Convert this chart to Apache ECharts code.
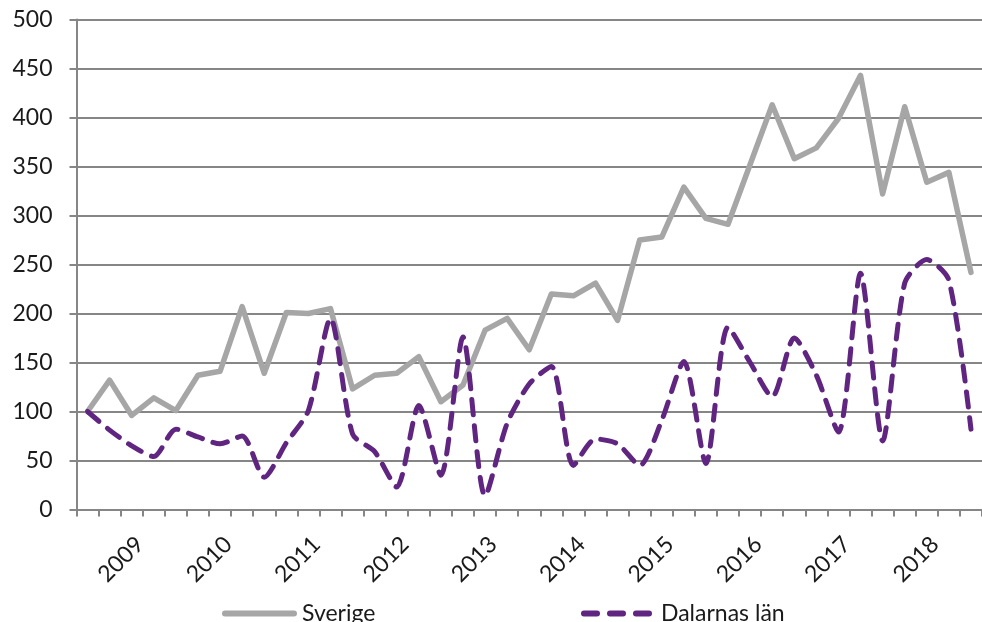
<!DOCTYPE html>
<html>
<head>
<meta charset="utf-8">
<script src="https://cdn.jsdelivr.net/npm/echarts@6/dist/echarts.min.js"></script>
<style>html,body{margin:0;padding:0;background:#fff}#c{width:982px;height:622px}</style>
</head>
<body>
<div id="c"></div>
<script>
const categories = [
  '2008 Q3','2008 Q4',
  '2009 Q1','2009 Q2','2009 Q3','2009 Q4',
  '2010 Q1','2010 Q2','2010 Q3','2010 Q4',
  '2011 Q1','2011 Q2','2011 Q3','2011 Q4',
  '2012 Q1','2012 Q2','2012 Q3','2012 Q4',
  '2013 Q1','2013 Q2','2013 Q3','2013 Q4',
  '2014 Q1','2014 Q2','2014 Q3','2014 Q4',
  '2015 Q1','2015 Q2','2015 Q3','2015 Q4',
  '2016 Q1','2016 Q2','2016 Q3','2016 Q4',
  '2017 Q1','2017 Q2','2017 Q3','2017 Q4',
  '2018 Q1','2018 Q2','2018 Q3'
];
const sverige = [100,132,96,114,101,137,141,207,139,201,200,205,123,137,139,156,110,127,183,195,163,220,218,231,193,275,278,329,297,291,352,413,358,369,399,443,322,411,334,344,242];
const dalarna = [100,81,65,54,82,74,67,75,33,68,101,195,77,59,23,106,35,176,14,88,128,146,45,72,67,45,91,151,47,186,150,115,175,137,79,241,70,231,255,234,82];
const yTicks = {min: 0, max: 500, interval: 50};

const font = 'Lato, "Open Sans", sans-serif';
const textColor = '#1a1a1a';
const chart = echarts.init(document.getElementById('c'), null, {renderer: 'canvas'});
chart.setOption({
  animation: false,
  grid: {left: 76.5, top: 19.5, width: 907.5, height: 490, containLabel: false},
  legend: [
    {left: 217, top: 597, itemWidth: 75, itemHeight: 6, itemGap: 0,
     icon: 'path://M3,0H72A3,3 0 0 1 72,6H3A3,3 0 0 1 3,0Z',
     data: ['Sverige'], textStyle: {fontFamily: font, fontSize: 23, color: textColor}},
    {left: 576, top: 597, itemWidth: 71, itemHeight: 6, itemGap: 0,
     icon: 'path://M3,0H16A3,3 0 0 1 16,6H3A3,3 0 0 1 3,0Z M29,0H42A3,3 0 0 1 42,6H29A3,3 0 0 1 29,0Z M55,0H68A3,3 0 0 1 68,6H55A3,3 0 0 1 55,0Z',
     data: ['Dalarnas län'], textStyle: {fontFamily: font, fontSize: 23, color: textColor, padding: [0,0,0,4]}}
  ],
  xAxis: {
    type: 'category',
    data: categories,
    boundaryGap: true,
    axisLine: {lineStyle: {color: '#868686', width: 2}},
    axisTick: {show: true, interval: 0, length: 7, lineStyle: {color: '#868686', width: 2}},
    axisLabel: {
      interval: function (i, v) { return v.endsWith('Q1'); },
      formatter: function (v) { return v.slice(0, 4); },
      rotate: 45, margin: 23, verticalAlign: 'top', align: 'right',
      fontFamily: font, fontSize: 23, color: textColor
    },
    splitLine: {show: false}
  },
  yAxis: {
    type: 'value',
    min: yTicks.min, max: yTicks.max, interval: yTicks.interval,
    axisLine: {show: true, lineStyle: {color: '#868686', width: 2}},
    axisTick: {show: true, length: 7, lineStyle: {color: '#868686', width: 2}},
    axisLabel: {margin: 24, fontFamily: font, fontSize: 23, color: textColor},
    splitLine: {lineStyle: {color: '#868686', width: 2}}
  },
  series: [
    {name: 'Sverige', type: 'line', data: sverige, symbol: 'none',
     lineStyle: {color: '#a6a6a6', width: 5.5, join: 'round', cap: 'round'},
     itemStyle: {color: '#a6a6a6'}},
    {name: 'Dalarnas län', type: 'line', data: dalarna, symbol: 'none', smooth: 0.25,
     lineStyle: {color: '#5f2580', width: 5, type: [15, 11], cap: 'round', join: 'round'},
     itemStyle: {color: '#5f2580'}}
  ]
});
</script>
</body>
</html>
